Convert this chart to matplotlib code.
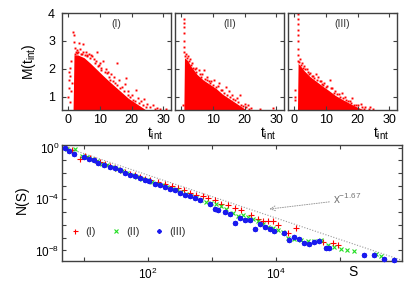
import numpy as np
import matplotlib
matplotlib.use("Agg")
import matplotlib.pyplot as plt
from matplotlib.ticker import FixedLocator, NullFormatter

plt.rcParams['font.family'] = ['Liberation Sans', 'DejaVu Sans']
plt.rcParams['mathtext.fontset'] = 'custom'
plt.rcParams['mathtext.rm'] = 'Liberation Sans'
plt.rcParams['mathtext.it'] = 'Liberation Sans:italic'
plt.rcParams['mathtext.default'] = 'regular'

# ---------------- top panels: waiting-time clouds ----------------
panel_names = ["(I)", "(II)", "(III)"]

# dense core envelope (t_int, upper M)
core_t_I = [1.5, 1.8, 3, 5, 7, 9, 11, 13, 15, 17, 19, 21, 23, 25]
core_M_I = [0.5, 2.5, 2.5, 2.4, 2.2, 1.98, 1.76, 1.55, 1.35, 1.15, 0.95, 0.8, 0.65, 0.5]
core_t_II = [0.8, 1.0, 2, 3, 5, 7, 9, 11, 13, 15, 17, 19, 21]
core_M_II = [0.5, 2.4, 2.3, 2.1, 1.8, 1.6, 1.45, 1.3, 1.1, 0.95, 0.8, 0.65, 0.5]
core_t_III = [1.0, 1.2, 2, 3, 5, 7, 9, 11, 13, 15, 17, 19, 21, 23]
core_M_III = [0.5, 2.2, 2.1, 1.95, 1.72, 1.55, 1.38, 1.22, 1.05, 0.92, 0.8, 0.68, 0.58, 0.5]

# scattered points outside the dense core
pts_t_I = [0.0, 0.1, 0.3, 0.2, 0.4, 0.5, 0.9, 1.2, 0.6, 1.0,
           1.6, 1.7, 1.8, 2.2, 2.6, 3.5, 4.5, 3.2, 5.5, 6.5, 7.5, 8.0, 9.0, 10.5,
           11.0, 12.0, 13.5, 14.5, 15.3, 16.0, 17.0, 18.0, 18.4, 19.0, 20.0, 21.5,
           22.0, 23.0, 24.1, 25.0, 26.8, 28.0, 29.0, 31.0, 10.0, 6.0, 4.0, 12.5,
           2.0, 2.4, 2.9, 3.8, 4.2, 4.8, 5.2, 6.0, 6.8, 7.2, 8.4, 8.8, 9.4, 9.8,
           10.2, 11.5, 12.2, 12.8, 13.2, 14.0, 14.8, 15.5, 16.5, 17.5, 18.8, 19.5,
           20.5, 21.0, 22.5, 23.5, 24.5, 26.0, 27.5]
pts_M_I = [1.0, 1.3, 1.6, 1.9, 2.05, 0.8, 1.2, 1.5, 1.75, 2.3,
           3.33, 3.2, 2.95, 2.75, 2.68, 2.93, 2.88, 2.6, 2.62, 2.55, 2.45, 2.35, 2.62, 2.05,
           2.3, 2.0, 1.8, 1.7, 2.2, 1.6, 1.35, 1.45, 1.68, 1.2, 1.05, 1.25,
           0.95, 0.85, 0.93, 0.75, 0.7, 0.6, 0.58, 0.58, 2.2, 2.5, 2.55, 1.9,
           2.55, 2.62, 2.58, 2.7, 2.52, 2.6, 2.5, 2.45, 2.38, 2.5, 2.2, 2.28, 2.1, 2.15,
           1.95, 1.9, 1.85, 1.7, 1.62, 1.55, 1.5, 1.42, 1.3, 1.2, 1.05, 0.98,
           0.9, 0.85, 0.78, 0.7, 0.65, 0.62, 0.56]
pts_t_II = [1.0, 1.0, 1.0, 1.0, 1.0, 1.0, 1.0, 1.5, 2.2, 2.8, 3.5, 4.5, 5.5, 6.5,
            7.2, 8.2, 9.5, 10.5, 11.5, 12.0, 13.0, 14.0, 15.0, 16.0, 17.5, 18.5,
            20.0, 21.0, 22.0, 25.0, 29.0, 0.5,
            1.2, 1.8, 2.5, 3.2, 3.8, 4.2, 4.8, 5.8, 6.2, 7.5, 8.0, 8.8, 9.0, 10.0,
            11.0, 12.5, 13.5, 14.5, 15.5, 16.5, 17.0, 18.0, 19.0, 19.5, 20.5, 21.5]
pts_M_II = [2.6, 2.8, 3.0, 3.3, 3.5, 3.65, 3.8, 2.55, 2.45, 2.35, 2.2, 2.05, 1.95, 1.8,
            1.95, 1.7, 1.55, 1.6, 1.4, 1.5, 1.25, 1.35, 1.2, 1.05, 0.95, 1.05,
            0.75, 0.7, 0.6, 0.55, 0.6, 0.7,
            2.45, 2.4, 2.28, 2.15, 2.05, 1.98, 1.9, 1.8, 1.72, 1.65, 1.6, 1.55, 1.5, 1.42,
            1.35, 1.25, 1.15, 1.05, 1.0, 0.92, 0.88, 0.8, 0.72, 0.68, 0.62, 0.58]
pts_t_III = [1.2, 1.2, 1.2, 1.2, 1.2, 1.2, 1.2, 1.2, 1.2, 1.2, 0.3, 0.3, 0.1,
             1.8, 2.5, 3.2, 4.0, 5.0, 6.0, 6.8, 7.5, 8.5, 9.5, 10.5, 11.2, 12.0,
             13.0, 14.0, 15.0, 16.0, 17.5, 18.3, 20.0, 21.0, 22.5, 24.0, 25.0,
             1.5, 2.2, 2.8, 3.5, 4.3, 4.7, 5.5, 6.3, 7.2, 8.0, 8.8, 9.2, 10.0,
             11.5, 12.5, 13.5, 14.5, 15.5, 16.5, 17.0, 18.0, 19.0, 19.5, 21.5, 22.0, 23.5]
pts_M_III = [2.3, 2.5, 2.7, 3.0, 3.2, 3.4, 3.6, 3.8, 3.95, 4.05, 1.0, 1.25, 0.9,
             2.35, 2.2, 2.1, 2.0, 1.85, 1.75, 1.8, 1.7, 1.55, 1.5, 1.4, 1.6, 1.3,
             1.2, 1.1, 1.15, 1.0, 0.85, 0.95, 0.7, 0.75, 0.65, 0.62, 0.58,
             2.25, 2.15, 2.05, 1.98, 1.9, 1.8, 1.75, 1.68, 1.6, 1.55, 1.45, 1.42, 1.35,
             1.3, 1.15, 1.1, 1.0, 0.95, 0.88, 0.85, 0.78, 0.72, 0.7, 0.62, 0.58, 0.55]

cores = [(core_t_I, core_M_I), (core_t_II, core_M_II), (core_t_III, core_M_III)]
points = [(pts_t_I, pts_M_I), (pts_t_II, pts_M_II), (pts_t_III, pts_M_III)]

t_ticks = [0, 10, 20, 30]
M_ticks = [1, 2, 3, 4]

# ---------------- bottom panel: avalanche size distributions ----------------
logS_I = [0.705, 0.819, 0.948, 1.026, 1.104, 1.181, 1.259, 1.337, 1.415, 1.492, 1.570, 1.648,
          1.725, 1.803, 1.881, 1.959, 2.036, 2.166, 2.269, 2.373, 2.466, 2.570, 2.658, 2.762,
          2.865, 2.943, 3.047, 3.150, 3.254, 3.358, 3.461, 3.617, 3.720, 3.798, 3.876, 3.953,
          4.031, 4.187, 4.316, 4.731, 4.886, 4.964]
logN_I = [0.06, -0.22, -0.87, -0.66, -0.82, -1.0, -1.13, -1.28, -1.44, -1.59, -1.75, -1.90,
          -2.03, -2.16, -2.29, -2.42, -2.53, -2.68, -2.86, -2.99, -3.15, -3.33, -3.51, -3.67,
          -3.77, -3.92, -4.11, -4.37, -4.49, -4.70, -4.88, -5.22, -5.53, -5.74, -5.74, -5.74,
          -6.05, -6.62, -6.26, -7.34, -7.40, -7.55]
logS_II = [0.741, 0.870, 0.974, 1.052, 1.130, 1.207, 1.285, 1.363, 1.440, 1.518, 1.596, 1.674,
           1.751, 1.829, 1.907, 1.984, 2.062, 2.140, 2.218, 2.295, 2.373, 2.451, 2.528, 2.606,
           2.684, 2.762, 2.839, 2.917, 2.995, 3.073, 3.150, 3.228, 3.332, 3.409, 3.487, 3.565,
           3.642, 3.720, 3.798, 3.876, 3.953, 4.031, 4.109, 4.187, 4.290, 4.394, 4.497, 4.601,
           4.705, 4.808, 4.912, 5.016, 5.119, 5.223, 5.560, 5.637]
logN_II = [-0.09, -0.14, -0.66, -0.74, -0.92, -1.08, -1.26, -1.39, -1.52, -1.70, -1.85, -2.01,
           -2.14, -2.27, -2.42, -2.55, -2.68, -2.81, -2.94, -3.07, -3.20, -3.33, -3.46, -3.61,
           -3.77, -3.92, -4.08, -4.21, -4.31, -4.39, -4.55, -4.75, -5.06, -5.32, -5.22, -5.43,
           -5.58, -5.71, -5.92, -6.18, -6.23, -6.41, -6.57, -7.03, -7.09, -7.16, -7.29, -7.29,
           -7.16, -7.55, -7.76, -7.86, -7.99, -8.07, -8.25, -8.46]
logS_III = [0.705, 0.777, 0.845, 1.0, 1.078, 1.155, 1.223, 1.311, 1.415, 1.492, 1.570, 1.648,
            1.725, 1.803, 1.881, 1.959, 2.021, 2.114, 2.192, 2.269, 2.347, 2.425, 2.503, 2.580,
            2.658, 2.736, 2.813, 2.969, 3.047, 3.098, 3.202, 3.280, 3.358, 3.435, 3.513, 3.591,
            3.668, 3.746, 3.824, 3.902, 3.979, 4.135, 4.212, 4.290, 4.368, 4.446, 4.523, 4.601,
            4.679, 4.782, 4.834, 5.378, 5.534, 5.689, 5.845]
logN_III = [-0.04, -0.30, -0.48, -0.74, -0.92, -1.0, -1.18, -1.33, -1.52, -1.59, -1.77, -1.96,
            -2.11, -2.24, -2.37, -2.50, -2.63, -2.81, -2.94, -3.07, -3.20, -3.33, -3.51, -3.67,
            -3.77, -3.92, -4.11, -4.37, -4.75, -4.88, -5.01, -5.14, -5.87, -5.48, -5.66, -5.66,
            -6.36, -5.92, -6.18, -6.31, -6.52, -6.62, -7.16, -6.96, -7.09, -7.40, -7.47, -7.34,
            -7.29, -7.81, -7.81, -8.38, -8.33, -8.69, -8.75]

series_labels = ["(I)", "(II)", "(III)"]
fit_exponent = -1.67
fit_label = r"x$^{-1.67}$"

# ---------------- figure ----------------
fig = plt.figure(figsize=(4.15, 2.91), dpi=100)
W, H = 415.0, 291.0
spine_col = '#404040'

def frame(ax):
    for s in ax.spines.values():
        s.set_color(spine_col)
        s.set_linewidth(1.0)

top_lefts = [62, 175, 288]
top_w = 109
for i in range(3):
    ax = fig.add_axes([top_lefts[i] / W, 1 - 110 / H, top_w / W, 97 / H])
    ct, cm = cores[i]
    ax.fill_between(ct, 0, cm, color='#ff0000', lw=0)
    pt, pm = points[i]
    ax.plot(pt, pm, 's', color='#ff0000', ms=1.4, mew=0, clip_on=True)
    ax.set_xlim(-2, 32.5)
    ax.set_ylim(0.53, 4)
    ax.set_xticks(t_ticks)
    ax.set_yticks(M_ticks)
    ax.tick_params(direction='in', length=3, width=0.8, colors=spine_col,
                   labelcolor='black', labelsize=9, top=True, right=True, pad=3)
    ax.tick_params(axis='y', pad=5)
    if i > 0:
        ax.set_yticklabels([])
    frame(ax)
    ax.text(0.5, 0.89, panel_names[i], transform=ax.transAxes, ha='center', va='center',
            fontsize=7.5, color='#333333')
    ax.text(0.85, -0.25, r"t$_{\rm int}$", transform=ax.transAxes, ha='center', va='center',
            fontsize=10)

fig.text(29 / W, 1 - 62 / H, r"M(t$_{\rm int}$)", rotation=90, ha='center', va='center', fontsize=10)

# bottom panel
axb = fig.add_axes([62 / W, 1 - 261 / H, 340 / W, 116 / H])
axb.set_xscale('log')
axb.set_yscale('log')
xmin, xmax = 10 ** 0.663, 10 ** 5.97
ymin, ymax = 10 ** -8.82, 10 ** 0.2
axb.set_xlim(xmin, xmax)
axb.set_ylim(ymin, ymax)

# reference power law
xs = np.logspace(np.log10(xmin), np.log10(xmax), 50)
axb.plot(xs, 10 ** 0.1 * (xs / xmin) ** fit_exponent, color='#9a9a9a', lw=0.8,
         ls=(0, (1, 1.5)), zorder=1)

hI, = axb.plot(10 ** np.array(logS_I), 10 ** np.array(logN_I), '+', color='#ff0000',
               ms=4.5, mew=0.8, label=series_labels[0], zorder=2)
hII, = axb.plot(10 ** np.array(logS_II), 10 ** np.array(logN_II), 'x', color='#22dd22',
                ms=3.5, mew=0.8, label=series_labels[1], zorder=3)
hIII, = axb.plot(10 ** np.array(logS_III), 10 ** np.array(logN_III), marker=(8, 2, 0),
                 ls='none', color='#0000ee', ms=3.8, mew=0.9, mec='#1a1aee',
                 label=series_labels[2], zorder=4, clip_on=False)

axb.annotate(fit_label, xy=(10 ** 3.9, 10 ** -4.78), xytext=(10 ** 4.9, 10 ** -4.05),
             fontsize=8.5, color='#777777', ha='left', va='center',
             arrowprops=dict(arrowstyle='->', color='#9a9a9a', lw=0.7, ls=(0, (1, 1.5)),
                             shrinkA=1, shrinkB=0))

axb.xaxis.set_major_locator(FixedLocator([1e2, 1e4, 1e6]))
axb.xaxis.set_minor_locator(FixedLocator([1e1, 1e3, 1e5]))
axb.yaxis.set_major_locator(FixedLocator([1e0, 1e-4, 1e-8]))
axb.yaxis.set_minor_locator(FixedLocator([1e-1, 1e-2, 1e-3, 1e-5, 1e-6, 1e-7]))
axb.xaxis.set_minor_formatter(NullFormatter())
axb.yaxis.set_minor_formatter(NullFormatter())
axb.tick_params(which='both', direction='in', length=3, width=0.8, colors=spine_col,
                labelcolor='black', labelsize=8.5, top=True, right=True)
axb.tick_params(axis='x', pad=4)
axb.tick_params(axis='y', pad=2)
frame(axb)

leg = axb.legend(handles=[hI, hII, hIII], loc='center left', bbox_to_anchor=(0.0, 0.25),
                 ncol=3, frameon=False, fontsize=8, handlelength=1.0, handletextpad=0.4,
                 columnspacing=1.3, borderpad=0.2, markerscale=0.8)
for t in leg.get_texts():
    t.set_color('#333333')

axb.text(0.856, -0.095, "S", transform=axb.transAxes, ha='center', va='center', fontsize=10)
fig.text(22 / W, 1 - 200 / H, "N(S)", rotation=90, ha='center', va='center', fontsize=10)

fig.savefig("out.png", dpi=100)
